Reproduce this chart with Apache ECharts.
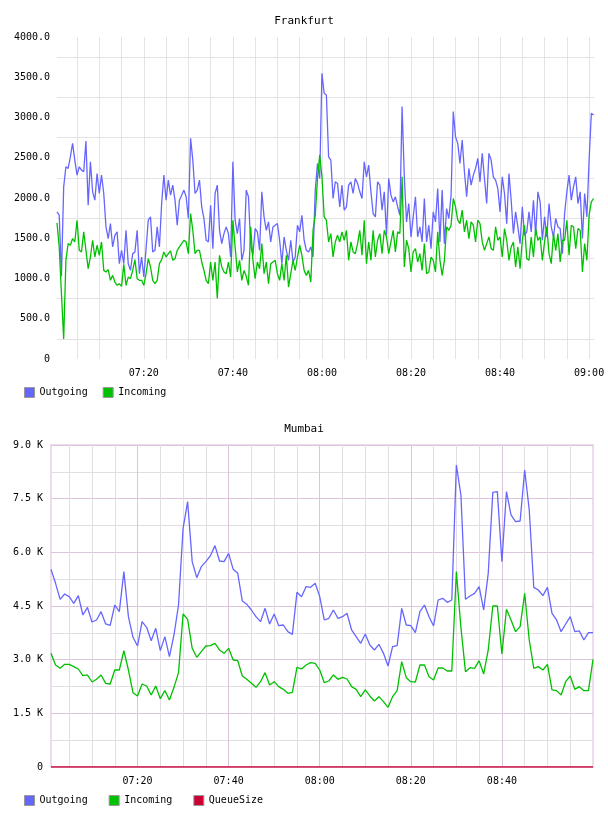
<!DOCTYPE html>
<html>
<head>
<meta charset="utf-8">
<title>Frankfurt / Mumbai</title>
<script src="https://cdn.jsdelivr.net/npm/echarts@6.0.0/dist/echarts.min.js"></script>
<style>
  html, body { margin: 0; padding: 0; background: #fff; }
  #chart { width: 608px; height: 816px; }
</style>
</head>
<body>
<div id="chart"></div>
<script>
// Frankfurt: one sample every 30 s from 07:00:30 (minutes after 07:00)
const fraStartMin = 0.5;
const fraStepMin = 0.5;

const fraOutgoing = [
  1828, 1786, 1027, 2139, 2388, 2367, 2512, 2678, 2471, 2284,
  2388, 2346, 2326, 2708, 1911, 2450, 2077, 1973, 2305, 2056,
  2284, 2056, 1641, 1496, 1683, 1392, 1537, 1579, 1184, 1350,
  1184, 1599, 1184, 1101, 1309, 1330, 1599, 1060, 1267, 1018,
  1371, 1724, 1766, 1330, 1350, 1641, 1392, 1931, 2284, 1973,
  2222, 2035, 2160, 1973, 1662, 1973, 2035, 2098, 2015, 1745,
  2741, 2471, 2056, 2098, 2222, 1890, 1745, 1475, 1454, 1911,
  1371, 2056, 2160, 1599, 1433, 1558, 1641, 1558, 1267, 2450,
  1724, 1558, 1745, 1226, 1350, 2098, 2015, 1413, 1288, 1620,
  1579, 1350, 2077, 1766, 1599, 1703, 1454, 1641, 1662, 1683,
  1475, 1184, 1516, 1350, 1226, 1475, 1205, 1267, 1662, 1579,
  1786, 1475, 1350, 1330, 1392, 1267, 2098, 2429, 2243, 3550,
  3301, 3280, 2512, 2471, 1994, 2201, 2181, 1890, 2160, 1849,
  1890, 2160, 2201, 2056, 2243, 2181, 2077, 1994, 2450, 2263,
  2409, 2077, 1807, 1766, 2201, 2160, 1849, 2077, 1537, 2243,
  2035, 1952, 2015, 1890, 1786, 3135, 2263, 1703, 1931, 1516,
  1766, 2015, 1516, 1641, 1454, 1994, 1454, 1662, 1371, 1828,
  1703, 2118, 1454, 2098, 1433, 1869, 1745, 2035, 3073, 2761,
  2679, 2429, 2720, 2326, 2015, 2367, 2160, 2284, 2367, 2492,
  2201, 2554, 2243, 1931, 2554, 2471, 2263, 2222, 2118, 1828,
  2263, 2056, 1682, 2305, 1973, 1558, 1828, 1641, 1433, 1890,
  1537, 1579, 1828, 1579, 1973, 1537, 2077, 1952, 1475, 1766,
  1516, 1931, 1641, 1516, 1745, 1641, 1620, 1309, 1807, 2077,
  2284, 1973, 2139, 2263, 1931, 2077, 1496, 2056, 1766, 2471,
  3052, 3031
];

const fraIncoming = [
  1691, 1392, 811, 250, 1226, 1433, 1413, 1496, 1454, 1724,
  1350, 1330, 1579, 1350, 1122, 1267, 1475, 1267, 1413, 1288,
  1454, 1101, 1081, 1110, 977, 1039, 956, 915, 936, 902,
  1176, 915, 1018, 998, 1101, 1234, 998, 977, 977, 915,
  1060, 1247, 1143, 977, 936, 977, 1184, 1234, 1330, 1267,
  1309, 1342, 1226, 1247, 1350, 1392, 1433, 1475, 1454, 1309,
  1807, 1599, 1309, 1350, 1350, 1205, 1101, 977, 936, 1205,
  977, 1205, 753, 1288, 1143, 1081, 1060, 1205, 1018, 1724,
  1392, 1081, 1226, 977, 1101, 1027, 915, 1641, 1226, 998,
  1205, 1122, 1433, 1060, 1205, 936, 1184, 1205, 1226, 1060,
  977, 1184, 977, 1288, 894, 1060, 1226, 1101, 1267, 1413,
  1288, 1101, 1039, 1101, 956, 1599, 1786, 2243, 2533, 2263,
  1766, 1724, 1454, 1558, 1267, 1454, 1537, 1454, 1579, 1475,
  1599, 1226, 1454, 1330, 1309, 1433, 1599, 1288, 1724, 1184,
  1454, 1226, 1599, 1267, 1475, 1558, 1309, 1599, 1516, 1309,
  1454, 1599, 1330, 1579, 1558, 2263, 1143, 1475, 1371, 1081,
  1330, 1371, 1205, 1309, 1101, 1433, 1060, 1081, 1267, 1226,
  1081, 1579, 1226, 1039, 1226, 1641, 1599, 1662, 1994, 1890,
  1724, 1682, 1849, 1579, 1724, 1496, 1703, 1662, 1454, 1724,
  1682, 1454, 1350, 1433, 1516, 1371, 1350, 1641, 1475, 1516,
  1267, 1620, 1475, 1226, 1392, 1454, 1143, 1392, 1122, 1475,
  1662, 1247, 1226, 1516, 1267, 1620, 1475, 1516, 1226, 1454,
  1641, 1309, 1185, 1558, 1350, 1558, 1205, 1475, 1475, 1724,
  1288, 1662, 1641, 1371, 1620, 1599, 1081, 1433, 1226, 1786,
  1952, 1994
];

// Mumbai: one sample per minute from 07:01
const mumStartMin = 1;
const mumStepMin = 1;

const mumOutgoing = [
  5525, 5134, 4687, 4836, 4761, 4575, 4789, 4249, 4463, 4053,
  4109, 4342, 3997, 3960, 4528, 4342, 5460, 4202, 3625, 3382,
  4062, 3904, 3531, 3876, 3252, 3643, 3084, 3690, 4528, 6671,
  7416, 5739, 5292, 5600, 5739, 5907, 6187, 5758, 5739, 5972,
  5525, 5413, 4640, 4547, 4388, 4202, 4062, 4435, 3997, 4277,
  3950, 3969, 3783, 3708, 4882, 4761, 5041, 5022, 5134, 4761,
  4109, 4156, 4388, 4156, 4202, 4295, 3830, 3643, 3457, 3718,
  3410, 3271, 3429, 3177, 2823, 3364, 3392, 4435, 3969, 3950,
  3755, 4342, 4528, 4202, 3941, 4668, 4715, 4603, 4668, 8441,
  7603, 4687, 4780, 4854, 5041, 4388, 5413, 7677, 7696, 5739,
  7696, 7044, 6857, 6876, 8301, 7183, 5022, 4947, 4789, 5022,
  4295, 4109, 3783, 3997, 4202, 3783, 3802, 3550, 3755, 3755
];

const mumIncoming = [
  3177, 2851, 2758, 2870, 2870, 2805, 2739, 2553, 2572, 2376,
  2451, 2572, 2339, 2320, 2711, 2711, 3252, 2711, 2078, 1985,
  2320, 2264, 2013, 2264, 1910, 2134, 1873, 2227, 2637, 4277,
  4128, 3317, 3066, 3224, 3382, 3392, 3457, 3271, 3177, 3317,
  2991, 2972, 2544, 2451, 2339, 2227, 2385, 2637, 2292, 2385,
  2246, 2171, 2060, 2087, 2786, 2739, 2851, 2916, 2898, 2711,
  2357, 2404, 2572, 2451, 2507, 2460, 2246, 2171, 1966, 2153,
  1985, 1845, 1966, 1826, 1668, 1966, 2134, 2944, 2497, 2385,
  2376, 2851, 2851, 2525, 2432, 2767, 2767, 2683, 2683, 5460,
  3900, 2665, 2777, 2758, 2972, 2600, 3271, 4500, 4500, 3159,
  4407, 4109, 3783, 3923, 4854, 3550, 2758, 2805, 2711, 2870,
  2153, 2134, 2013, 2385, 2544, 2171, 2246, 2134, 2134, 3010
];

const mumQueueSize = [
  0, 0, 0, 0, 0, 0, 0, 0, 0, 0, 0, 0, 0, 0, 0, 0, 0, 0, 0, 0,
  0, 0, 0, 0, 0, 0, 0, 0, 0, 0, 0, 0, 0, 0, 0, 0, 0, 0, 0, 0,
  0, 0, 0, 0, 0, 0, 0, 0, 0, 0, 0, 0, 0, 0, 0, 0, 0, 0, 0, 0,
  0, 0, 0, 0, 0, 0, 0, 0, 0, 0, 0, 0, 0, 0, 0, 0, 0, 0, 0, 0,
  0, 0, 0, 0, 0, 0, 0, 0, 0, 0, 0, 0, 0, 0, 0, 0, 0, 0, 0, 0,
  0, 0, 0, 0, 0, 0, 0, 0, 0, 0, 0, 0, 0, 0, 0, 0, 0, 0, 0, 0
];

// ticks and labels (x in minutes after 07:00)
const fraLabelX = [20, 40, 60, 80, 100, 120];
const fraGridX = [5, 10, 15, 20, 25, 30, 35, 40, 45, 50, 55, 60, 65, 70, 75, 80, 85, 90, 95, 100, 105, 110, 115, 120];
const fraLabelY = [0, 500, 1000, 1500, 2000, 2500, 3000, 3500, 4000];
const fraGridY = [250, 750, 1250, 1750, 2250, 2750, 3250, 3750];

const mumLabelX = [20, 40, 60, 80, 100];
const mumGridX = [5, 10, 15, 20, 25, 30, 35, 40, 45, 50, 55, 60, 65, 70, 75, 80, 85, 90, 95, 100, 105, 110, 115];
const mumLabelY = [0, 1500, 3000, 4500, 6000, 7500, 9000];

const FONT = "'DejaVu Sans Mono', monospace";
const OUT_COLOR = '#6666ff';
const IN_COLOR = '#00c000';
const QUEUE_COLOR = '#cc0033';
const GRID_GREY = '#e3e3e3';
const MUM_MINOR = '#e2dde2';
const MUM_MAJOR = '#dcc4dc';

function clock(min) {
  const h = 7 + Math.floor(min / 60);
  const m = Math.round(min % 60);
  return String(h).padStart(2, '0') + ':' + String(m).padStart(2, '0');
}

function timed(values, start, step) {
  return values.map((v, i) => [start + i * step, v]);
}

function lineSeries(name, values, start, step, color, idx) {
  return {
    name,
    type: 'line',
    xAxisIndex: idx,
    yAxisIndex: idx,
    data: timed(values, start, step),
    showSymbol: false,
    symbol: 'none',
    silent: true,
    lineStyle: { width: 1.3, color },
    itemStyle: { color },
    emphasis: { disabled: true }
  };
}

const labelStyle = { fontFamily: FONT, fontSize: 10, color: '#000' };
const titleStyle = { fontFamily: FONT, fontSize: 11, fontWeight: 'normal', color: '#000' };
const legendBase = {
  left: 24,
  padding: 0,
  icon: 'rect',
  itemWidth: 10,
  itemHeight: 10,
  selectedMode: false,
  textStyle: { fontFamily: FONT, fontSize: 10, color: '#000' },
  itemStyle: { borderColor: '#999', borderWidth: 1 }
};

const chart = echarts.init(document.getElementById('chart'));

chart.setOption({
  animation: false,
  backgroundColor: '#fff',
  title: [
    { text: 'Frankfurt', left: 'center', top: 16, padding: 0, textStyle: titleStyle },
    { text: 'Mumbai', left: 'center', top: 424, padding: 0, textStyle: titleStyle }
  ],
  legend: [
    Object.assign({}, legendBase, { data: ['Outgoing', 'Incoming'], top: 387, itemGap: 15 }),
    Object.assign({}, legendBase, { data: ['Outgoing', 'Incoming', 'QueueSize'], top: 795, itemGap: 21 })
  ],
  grid: [
    { left: 57, top: 37, width: 537, height: 322, outerBoundsMode: 'none' },
    { left: 51, top: 445, width: 542, height: 322, outerBoundsMode: 'none',
      show: true, borderColor: '#ecdcec', borderWidth: 2, backgroundColor: 'transparent' }
  ],
  xAxis: [
    {
      gridIndex: 0, type: 'value', min: 0.5, max: 121.1,
      axisLine: { show: false },
      axisTick: { show: false, customValues: fraGridX },
      axisLabel: Object.assign({ customValues: fraLabelX, formatter: clock, margin: 9 }, labelStyle),
      splitLine: { show: true, lineStyle: { color: GRID_GREY, width: 1 } }
    },
    {
      gridIndex: 1, type: 'value', min: 1, max: 120,
      axisLine: { show: false },
      axisTick: { show: false, customValues: mumGridX },
      axisLabel: Object.assign({ customValues: mumLabelX, formatter: clock, margin: 9 }, labelStyle),
      splitLine: { show: true, lineStyle: { color: [MUM_MINOR, MUM_MINOR, MUM_MINOR, MUM_MAJOR], width: 1 } }
    }
  ],
  yAxis: [
    {
      gridIndex: 0, type: 'value', min: 0, max: 4000,
      axisLine: { show: false },
      axisTick: { show: false, customValues: fraGridY },
      axisLabel: Object.assign({
        customValues: fraLabelY,
        formatter: v => (v === 0 ? '0' : v.toFixed(1)),
        margin: 7
      }, labelStyle),
      splitLine: { show: true, lineStyle: { color: GRID_GREY, width: 1 } }
    },
    {
      gridIndex: 1, type: 'value', min: 0, max: 9000, interval: 750,
      axisLine: { show: false },
      axisTick: { show: false },
      axisLabel: Object.assign({
        customValues: mumLabelY,
        formatter: v => (v === 0 ? '0' : (v / 1000).toFixed(1) + ' K'),
        margin: 8
      }, labelStyle),
      splitLine: { show: true, lineStyle: { color: [MUM_MAJOR, MUM_MINOR], width: 1 } }
    }
  ],
  series: [
    lineSeries('Outgoing', fraOutgoing, fraStartMin, fraStepMin, OUT_COLOR, 0),
    lineSeries('Incoming', fraIncoming, fraStartMin, fraStepMin, IN_COLOR, 0),
    lineSeries('Outgoing', mumOutgoing, mumStartMin, mumStepMin, OUT_COLOR, 1),
    lineSeries('Incoming', mumIncoming, mumStartMin, mumStepMin, IN_COLOR, 1),
    lineSeries('QueueSize', mumQueueSize, mumStartMin, mumStepMin, QUEUE_COLOR, 1)
  ]
});

window.addEventListener('resize', () => chart.resize());
</script>
</body>
</html>
